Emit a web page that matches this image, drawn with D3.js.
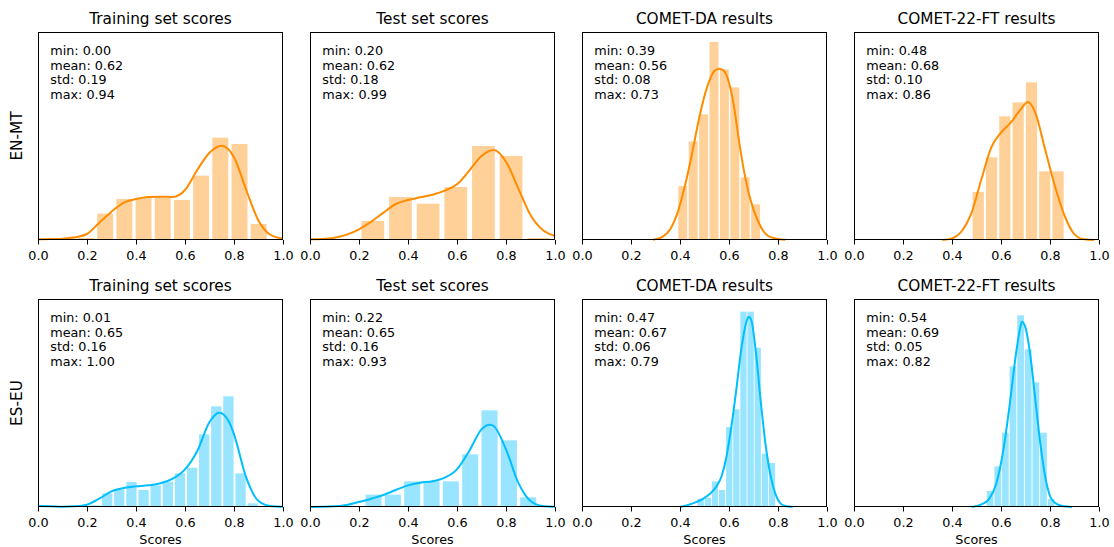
<!DOCTYPE html>
<html lang="en"><head>
<meta charset="utf-8">
<title>Score distributions</title>
<script src="https://cdn.jsdelivr.net/npm/d3@7"></script>
<style>
body { margin: 0; background: #fff; }
text { font-family: "DejaVu Sans", sans-serif; fill: #000; }
</style>
</head>
<body>
<script type="text/javascript">

var width = 1114;
var height = 547;

var rowLabels = ["EN-MT", "ES-EU"];
var panelTitles = ["Training set scores", "Test set scores", "COMET-DA results", "COMET-22-FT results"];
var xTicks = [0, 0.2, 0.4, 0.6, 0.8, 1.0];
var xLabel = "Scores";

// summary stats per row (EN-MT, ES-EU), one value per panel
var statMin  = [[0.00, 0.20, 0.39, 0.48], [0.01, 0.22, 0.47, 0.54]];
var statMean = [[0.62, 0.62, 0.56, 0.68], [0.65, 0.65, 0.67, 0.69]];
var statStd  = [[0.19, 0.18, 0.08, 0.10], [0.16, 0.16, 0.06, 0.05]];
var statMax  = [[0.94, 0.99, 0.73, 0.86], [1.00, 0.93, 0.79, 0.82]];

// bar heights (density), bins span min..max of each panel
var enMtTrainBars = [0.01, 0.06, 0.06, 0.79, 1.23, 1.27, 1.27, 1.20, 1.93, 3.07, 2.88, 0.48];
var enMtTestBars  = [0.57, 1.29, 1.09, 1.59, 2.82, 2.52, 0.06];
var enMtDaBars    = [1.62, 2.96, 3.77, 5.94, 5.12, 4.58, 1.88, 1.07];
var enMtFtBars    = [1.44, 2.48, 3.71, 4.13, 4.73, 2.06, 2.06];
var esEuTrainBars = [0.02, 0, 0, 0.01, 0.05, 0.41, 0.53, 0.75, 0.51, 0.65, 0.76, 1.01, 1.18, 2.18, 3.02, 3.32, 1.01, 0.11, 0.01, 0.01];
var esEuTestBars  = [0.37, 0.37, 0.77, 0.77, 0.77, 1.58, 2.90, 2.00, 0.29];
var esEuDaBars    = [0.25, 0.27, 0.77, 0.51, 2.40, 2.93, 5.86, 5.86, 4.78, 1.60, 1.32];
var esEuFtBars    = [0.48, 1.22, 2.23, 4.22, 5.75, 4.73, 3.74, 2.23, 0.24];

// kde curves [score, density]
var enMtTrainKde = [[0, 0.02], [0.05, 0.03], [0.1, 0.04], [0.15, 0.08], [0.2, 0.18], [0.25, 0.52], [0.3, 0.85], [0.35, 1.12], [0.4, 1.23], [0.45, 1.29], [0.5, 1.30], [0.55, 1.29], [0.6, 1.50], [0.65, 2.10], [0.7, 2.62], [0.75, 2.83], [0.8, 2.48], [0.85, 1.50], [0.9, 0.58], [0.95, 0.15], [1.0, 0.04]];
var enMtTestKde = [[0, 0.02], [0.05, 0.03], [0.1, 0.07], [0.15, 0.16], [0.2, 0.32], [0.25, 0.55], [0.3, 0.82], [0.35, 1.08], [0.4, 1.20], [0.45, 1.28], [0.5, 1.36], [0.55, 1.48], [0.6, 1.67], [0.65, 2.08], [0.7, 2.52], [0.75, 2.70], [0.8, 2.35], [0.85, 1.55], [0.9, 0.75], [0.95, 0.30], [1.0, 0.12]];
var enMtDaKde = [[0.29, 0.01], [0.33, 0.10], [0.36, 0.32], [0.39, 0.82], [0.42, 1.62], [0.45, 2.62], [0.48, 3.72], [0.51, 4.57], [0.54, 5.07], [0.56, 5.14], [0.58, 5.07], [0.60, 4.72], [0.62, 4.02], [0.64, 3.02], [0.66, 2.12], [0.68, 1.42], [0.70, 0.92], [0.72, 0.54], [0.74, 0.27], [0.76, 0.12], [0.80, 0.03], [0.83, 0.01]];
var enMtFtKde = [[0.36, 0.0], [0.40, 0.05], [0.44, 0.27], [0.48, 0.82], [0.52, 1.82], [0.56, 2.77], [0.60, 3.22], [0.64, 3.52], [0.68, 3.92], [0.71, 4.14], [0.74, 3.82], [0.78, 2.72], [0.82, 1.62], [0.86, 0.72], [0.90, 0.17], [0.94, 0.02], [0.98, 0.0]];
var esEuTrainKde = [[0, 0.03], [0.05, 0.025], [0.1, 0.01], [0.15, 0.02], [0.2, 0.07], [0.25, 0.25], [0.3, 0.47], [0.35, 0.57], [0.4, 0.62], [0.45, 0.65], [0.5, 0.71], [0.55, 0.85], [0.6, 1.13], [0.65, 1.68], [0.7, 2.55], [0.74, 2.83], [0.78, 2.55], [0.8, 2.18], [0.85, 0.88], [0.9, 0.18], [0.95, 0.03], [1.0, 0.01]];
var esEuTestKde = [[0, 0.0], [0.05, 0.005], [0.1, 0.02], [0.15, 0.06], [0.2, 0.15], [0.25, 0.25], [0.3, 0.36], [0.35, 0.51], [0.4, 0.65], [0.45, 0.73], [0.5, 0.77], [0.55, 0.88], [0.6, 1.13], [0.65, 1.68], [0.7, 2.33], [0.735, 2.47], [0.75, 2.43], [0.8, 1.73], [0.85, 0.73], [0.9, 0.18], [0.95, 0.03], [1.0, 0.01]];
var esEuDaKde = [[0.40, 0.0], [0.43, 0.05], [0.46, 0.13], [0.49, 0.23], [0.52, 0.38], [0.55, 0.63], [0.57, 0.93], [0.59, 1.53], [0.61, 2.43], [0.63, 3.53], [0.65, 4.73], [0.67, 5.53], [0.68, 5.71], [0.69, 5.63], [0.71, 4.63], [0.73, 3.13], [0.75, 1.83], [0.77, 0.93], [0.79, 0.38], [0.81, 0.11], [0.83, 0.03], [0.86, 0.0]];
var esEuFtKde = [[0.48, 0.0], [0.52, 0.08], [0.55, 0.23], [0.58, 0.68], [0.61, 1.73], [0.64, 3.33], [0.66, 4.53], [0.68, 5.43], [0.685, 5.56], [0.70, 5.38], [0.72, 4.53], [0.74, 3.23], [0.76, 1.93], [0.78, 0.93], [0.80, 0.33], [0.82, 0.13], [0.85, 0.03], [0.89, 0.0]];

var bars = [[enMtTrainBars, enMtTestBars, enMtDaBars, enMtFtBars],
            [esEuTrainBars, esEuTestBars, esEuDaBars, esEuFtBars]];
var kdes = [[enMtTrainKde, enMtTestKde, enMtDaKde, enMtFtKde],
            [esEuTrainKde, esEuTestKde, esEuDaKde, esEuFtKde]];
var yTop = 6.24;

var lineColors = ["#ff8c00", "#00bfff"];
var barColors = ["#ffd199", "#99e5ff"];

var plotW = 245, plotH = 208;
var firstLeft = 38, colStep = 272;
var firstTop = 32, rowStep = 267;

var svg = d3.select("body").append("svg")
            .attr("width", width)
            .attr("height", height);

var x = d3.scaleLinear().domain([0, 1]).range([0, plotW]);
var y = d3.scaleLinear().domain([0, yTop]).range([plotH, 0]);
var fmt = d3.format(".2f");

var line = d3.line()
            .x((d) => x(d[0]))
            .y((d) => y(d[1]))
            .curve(d3.curveMonotoneX);

rowLabels.forEach((rowLabel, r) => {
    var top = firstTop + r * rowStep;

    svg.append("text")
        .attr("transform", `translate(22,${top + plotH / 2}) rotate(-90)`)
        .attr("text-anchor", "middle")
        .style("font-size", "15.3px")
        .text(rowLabel);

    panelTitles.forEach((title, c) => {
        var left = firstLeft + c * colStep;
        var g = svg.append("g").attr("transform", `translate(${left},${top})`);

        var lo = statMin[r][c], hi = statMax[r][c];
        var heights = bars[r][c];
        var binW = (hi - lo) / heights.length;
        var barW = (x(binW) - x(0)) * 0.8 + 0.6;

        g.selectAll("rect.bar")
            .data(heights)
            .enter()
            .append("rect")
            .attr("class", "bar")
            .attr("x", (d, i) => x(lo + (i + 0.5) * binW) - barW / 2)
            .attr("width", barW)
            .attr("y", (d) => y(d))
            .attr("height", (d) => plotH - y(d))
            .attr("fill", barColors[r]);

        g.append("path")
            .datum(kdes[r][c])
            .attr("d", line)
            .attr("fill", "none")
            .attr("stroke", lineColors[r])
            .attr("stroke-width", 2);

        var axis = g.append("g")
            .attr("transform", `translate(0,${plotH})`)
            .call(d3.axisBottom(x)
                .tickValues(xTicks)
                .tickFormat(d3.format(".1f"))
                .tickSize(4.5)
                .tickSizeOuter(0));
        axis.select(".domain").remove();
        axis.selectAll(".tick line").attr("stroke", "#000").attr("stroke-width", 1);
        axis.selectAll(".tick text")
            .attr("y", 20)
            .attr("dy", 0)
            .style("font-size", "12.75px")
            .style("font-family", "DejaVu Sans");

        g.append("rect")
            .attr("x", 0.5)
            .attr("y", 0.5)
            .attr("width", plotW - 1)
            .attr("height", plotH - 1)
            .attr("fill", "none")
            .attr("stroke", "#000")
            .attr("stroke-width", 1);

        g.append("text")
            .attr("x", plotW / 2)
            .attr("y", -8)
            .attr("text-anchor", "middle")
            .style("font-size", "15.3px")
            .text(title);

        var stats = g.append("text")
            .attr("x", 12.25)
            .attr("y", 23)
            .style("font-size", "12.75px");
        var lines = ["min: " + fmt(lo), "mean: " + fmt(statMean[r][c]),
                     "std: " + fmt(statStd[r][c]), "max: " + fmt(hi)];
        lines.forEach((t, i) => {
            stats.append("tspan")
                .attr("x", 12.25)
                .attr("dy", i === 0 ? 0 : 14.7)
                .text(t);
        });

        if (r === rowLabels.length - 1) {
            g.append("text")
                .attr("x", plotW / 2)
                .attr("y", plotH + 37)
                .attr("text-anchor", "middle")
                .style("font-size", "12.75px")
                .text(xLabel);
        }
    });
});

</script>
</body></html>
